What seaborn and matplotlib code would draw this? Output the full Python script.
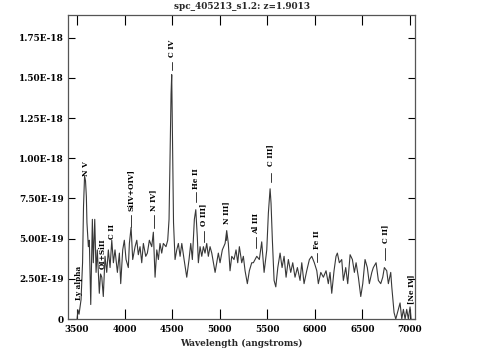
import numpy as np
import pandas as pd
import seaborn as sns
import matplotlib.pyplot as plt

# spectrum (flux in units of 1e-19)
wavelength = [3500, 3510, 3521, 3542, 3558, 3568, 3579, 3589, 3598, 3604,
              3619, 3629, 3644, 3661, 3671, 3686, 3700, 3713, 3734, 3747,
              3760, 3776, 3794, 3812, 3829, 3847, 3865, 3882, 3899, 3924,
              3945, 3959, 3980, 3997, 4015, 4039, 4050, 4068, 4085, 4110,
              4128, 4144, 4162, 4180, 4197, 4222, 4239, 4260, 4285, 4302,
              4320, 4338, 4355, 4372, 4390, 4407, 4435, 4453, 4467, 4478,
              4488, 4495, 4504, 4514, 4530, 4548, 4565, 4583, 4601, 4625,
              4653, 4677, 4695, 4712, 4733, 4748, 4764, 4775, 4793, 4811,
              4828, 4845, 4863, 4880, 4898, 4916, 4933, 4951, 4968, 4985,
              5003, 5027, 5056, 5073, 5090, 5108, 5126, 5150, 5171, 5189,
              5206, 5231, 5248, 5266, 5290, 5311, 5336, 5353, 5389, 5416,
              5441, 5466, 5494, 5511, 5529, 5539, 5553, 5571, 5589, 5610,
              5634, 5655, 5676, 5697, 5721, 5746, 5767, 5791, 5816, 5844,
              5862, 5886, 5914, 5942, 5967, 5994, 6020, 6036, 6062, 6089,
              6117, 6141, 6159, 6177, 6201, 6222, 6236, 6257, 6282, 6299,
              6324, 6345, 6370, 6394, 6415, 6433, 6457, 6482, 6503, 6527,
              6551, 6572, 6598, 6614, 6643, 6667, 6692, 6713, 6730, 6755,
              6772, 6797, 6808, 6832, 6850, 6877, 6895, 6913, 6930, 6948,
              6965, 6982, 7000, 7011]
flux = [0.0, 0.56, 0.3, 1.2, 3.5, 7.0, 8.9, 8.6, 7.6, 6.0,
        4.5, 4.9, 0.9, 6.2, 3.5, 6.2, 2.9, 4.3, 1.6, 2.8,
        2.6, 1.4, 3.9, 2.9, 4.3, 3.2, 4.9, 3.5, 4.3, 2.9,
        4.1, 2.2, 4.3, 4.9, 3.7, 3.2, 4.7, 5.7, 3.7, 4.5,
        4.9, 4.0, 4.5, 3.5, 4.7, 3.9, 4.1, 4.9, 4.5, 5.4,
        2.6, 4.3, 3.7, 4.7, 4.1, 4.7, 4.5, 4.9, 6.2, 10.5,
        14.0, 15.2, 11.0, 6.0, 3.7, 4.3, 4.7, 3.9, 4.7, 3.7,
        2.6, 3.7, 4.7, 3.7, 6.2, 6.8, 5.1, 3.5, 4.5, 3.9,
        4.5, 4.1, 4.7, 3.9, 4.5, 4.1, 3.5, 2.9, 3.5, 4.1,
        3.5, 4.3, 4.7, 5.5, 4.7, 3.0, 3.9, 3.7, 4.3, 3.5,
        4.5, 3.5, 3.9, 3.0, 2.2, 3.0, 3.5, 3.5, 3.9, 3.7,
        4.8, 2.9, 4.3, 6.6, 8.1, 7.2, 4.9, 2.4, 2.0, 3.2,
        4.1, 3.2, 3.9, 2.6, 3.7, 2.9, 3.5, 2.6, 3.2, 2.4,
        3.5, 2.2, 3.0, 3.7, 3.9, 3.5, 3.0, 2.2, 2.9, 2.6,
        3.0, 2.2, 2.9, 1.6, 3.0, 3.9, 4.1, 3.5, 3.7, 2.4,
        3.2, 2.2, 4.0, 3.7, 2.9, 3.5, 2.6, 1.4, 2.2, 3.7,
        3.2, 2.2, 2.9, 3.2, 3.5, 2.4, 2.2, 2.6, 3.2, 3.0,
        2.2, 2.9, 2.0, 0.4, 0.0, 0.6, 1.0, 0.0, 0.6, 0.0,
        0.6, 0.0, 0.75, 0.0]

# line identifications: name, wavelength, text base, tick bottom/top (1e-19)
line_names = ["Ly alpha", "N V", "OI+SiII", "C II", "SiIV+OIV]", "N IV]",
              "C IV", "He II", "O III]", "N III]", "Al III", "C III]",
              "Fe II", "C II]", "[Ne IV]"]
line_wave = [3516, 3595, 3773, 3868, 4068, 4304, 4493, 4746, 4830, 5067,
             5380, 5534, 6017, 6738, 7011]
text_base = [1.2, 8.9, 3.1, 5.0, 6.7, 6.7, 16.3, 8.1, 5.8, 5.9, 5.3, 9.5,
             4.35, 4.7, 0.95]
tick_lo = [None, None, None, None, 5.7, 5.65, 15.5, 7.3, 4.8, 4.9, 4.4, 8.5,
           3.55, 3.7, None]
tick_hi = [None, None, None, None, 6.45, 6.45, 16.0, 7.9, 5.5, 5.5, 5.1, 9.1,
           4.1, 4.4, None]

xticks = [3500, 4000, 4500, 5000, 5500, 6000, 6500, 7000]
yticks = [0, 2.5e-19, 5.0e-19, 7.5e-19, 1.0e-18, 1.25e-18, 1.5e-18, 1.75e-18]
ytick_labels = ["0", "2.50E-19", "5.00E-19", "7.50E-19", "1.00E-18",
                "1.25E-18", "1.50E-18", "1.75E-18"]

sns.set_theme(style="ticks")
plt.rcParams["font.family"] = ["DejaVu Serif"]
plt.rcParams["font.weight"] = "bold"

df = pd.DataFrame({"wave": wavelength, "flux": np.array(flux) * 1e-19})

fig = plt.figure(figsize=(4.83, 3.58), dpi=100)
ax = fig.add_axes([0.1408, 0.1089, 0.7184, 0.8492])
sns.lineplot(data=df, x="wave", y="flux", sort=False, color="#383838",
             linewidth=0.8, ax=ax)

for name, w, tb, lo, hi in zip(line_names, line_wave, text_base, tick_lo, tick_hi):
    ax.text(w, tb * 1e-19, name, rotation=90, ha="center", va="bottom",
            fontsize=5.2, fontweight="bold", color="black")
    if lo is not None:
        ax.plot([w, w], [lo * 1e-19, hi * 1e-19], color="#383838", lw=0.7)

ax.set_xlim(3405, 7052)
ax.set_ylim(0, 1.891e-18)
ax.set_xticks(xticks)
ax.set_xticklabels([str(t) for t in xticks])
ax.set_yticks(yticks)
ax.set_yticklabels(ytick_labels)
ax.tick_params(direction="in", top=True, right=True, length=5, width=0.8,
               labelsize=6.4, pad=3, colors="black")
ax.tick_params(axis="x", length=7, pad=4)
for s in ax.spines.values():
    s.set_color("#555555")
    s.set_linewidth(0.9)
ax.set_xlabel("Wavelength (angstroms)", fontsize=6.4, fontweight="bold", labelpad=4)
ax.set_ylabel("")
ax.set_title("spc_405213_s1.2: z=1.9013", fontsize=6.4, fontweight="bold", pad=4)

fig.savefig("out.png", dpi=100)
